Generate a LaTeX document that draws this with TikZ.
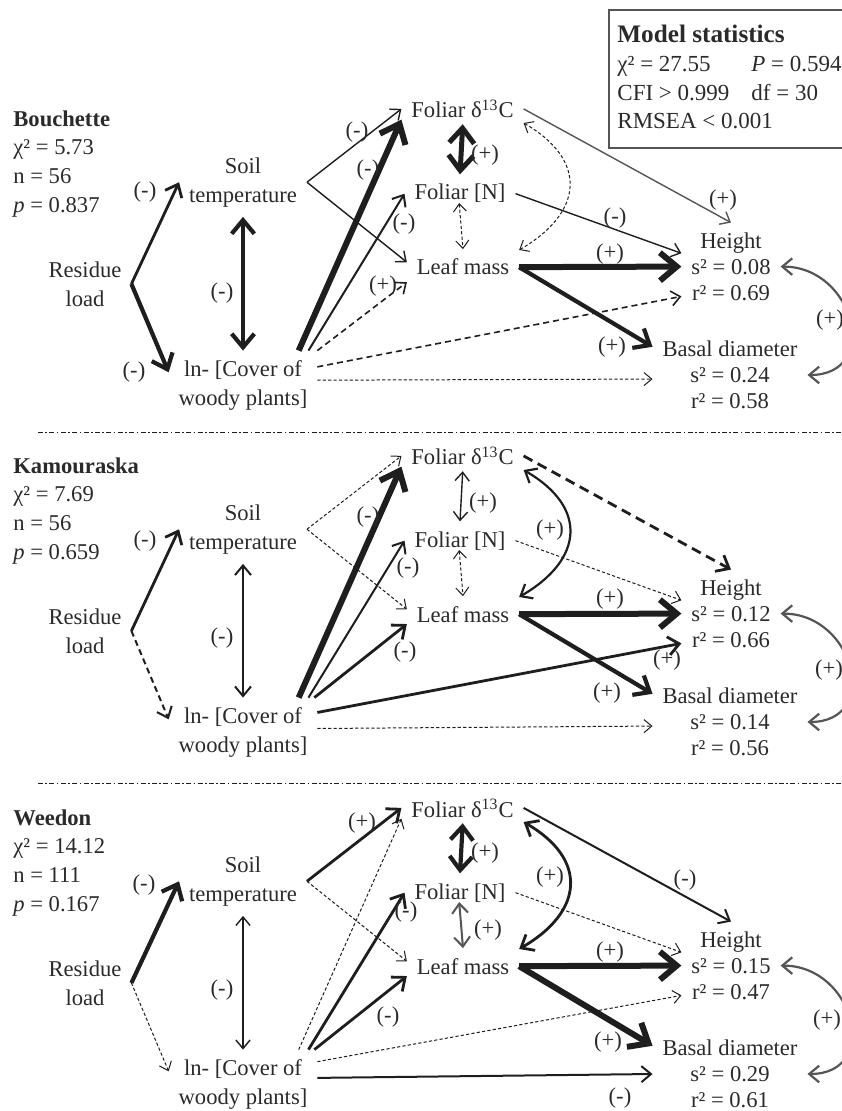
\documentclass[tikz,border=0pt]{standalone}
\usepackage{fontspec}
\setmainfont{Liberation Serif}
\usetikzlibrary{arrows.meta}
\definecolor{ink}{HTML}{1E1E1E}
\definecolor{txt}{HTML}{2A2A2A}
\definecolor{soft}{HTML}{555555}

\begin{document}
\begin{tikzpicture}[x=0.5pt, y=-0.5pt, color=ink,
  >={Straight Barb[length=3pt 1.8, width=5pt 3]},
  every node/.style={text=txt, inner sep=0pt, font=\fontsize{11.3}{14.4}\selectfont},
  var/.style={align=center, outer sep=5pt},
  resp/.style={var, font=\fontsize{11.3}{13}\selectfont},
  lnfine/.style={line width=0.5pt, dash pattern=on 1.6pt off 1.1pt},
  lndash/.style={line width=0.8pt, dash pattern=on 3pt off 2pt},
  lnslim/.style={line width=0.7pt},
  lnmid/.style={line width=1.4pt},
  lnbold/.style={line width=2.1pt},
  lnheavy/.style={line width=3pt},
  pair/.style={<->, line width=1.1pt, draw=soft},
  sep/.style={line width=0.5pt, dash pattern=on 2.5pt off 1.2pt on 0.8pt off 1.2pt}]
\useasboundingbox (0,0) rectangle (841,1111);

% variables, one block per site
\foreach \p/\dy/\site/\cs/\nn/\pv/\hsq/\hrq/\bsq/\brq in {a/0/Bouchette/5.73/56/0.837/0.08/0.69/0.24/0.58,
    b/347/Kamouraska/7.69/56/0.659/0.12/0.66/0.14/0.56, c/699/Weedon/14.12/111/0.167/0.15/0.47/0.29/0.61}{
\begin{scope}[shift={(0,\dy)}]
\node[anchor=north west, align=left] (\p-site) at (13,110) {\textbf{\site}\\χ² = \cs\\n = \nn\\\textit{p} = \pv};
\node[var, anchor=north] (\p-res) at (85,251.6) {Residue\\load};
\node[var, anchor=north] (\p-soil) at (243,147.6) {Soil\\temperature};
\node[var, anchor=north] (\p-cov) at (243,350.6) {ln- [Cover of\\woody plants]};
\node[var, anchor=base] (\p-d13) at (462.5,118) {Foliar δ\textsuperscript{13}C};
\node[var, anchor=base] (\p-fn) at (460,200) {Foliar [N]};
\node[var, anchor=base] (\p-lm) at (463,275) {Leaf mass};
\node[resp, anchor=north] (\p-ht) at (731,222.6) {Height\\s² = \hsq\\r² = \hrq};
\node[resp, anchor=north] (\p-bd) at (730,331) {Basal diameter\\s² = \bsq\\r² = \brq};
\end{scope}}

% model statistics
\draw[line width=0.9pt, draw=soft] (609,10) rectangle (870,148);
\node[anchor=north west, font=\fontsize{11.5}{14.4}\selectfont] (stats) at (617,22) {\begin{tabular}{@{}l@{\hspace{11pt}}l@{}}
  \multicolumn{2}{@{}l}{\fontsize{12.6}{14.4}\selectfont\textbf{Model statistics}}\\
  χ² = 27.55 & \textit{P} = 0.594\\
  CFI > 0.999 & df = 30\\
  \multicolumn{2}{@{}l}{RMSEA < 0.001}\end{tabular}};

\draw[sep] (38,433) -- (841,433);
\draw[sep] (38,783) -- (841,783);

% Bouchette
\draw[->, lnmid] (a-res.east) -- (a-soil.west);
\draw[->, lnbold] (a-res.east) -- (a-cov.170);
\draw[<->, lnbold] (a-soil.south) -- (a-cov.north);
\draw[->, lnslim] (a-soil.east) -- (a-d13.west);
\draw[->, lnslim] (a-soil.east) -- (a-lm.175);
\draw[->, lnheavy] (a-cov.32) -- (a-d13.190);
\draw[->, line width=1pt] (a-cov.28) -- (a-fn.west);
\draw[->, lndash] (a-cov.north east) -- (a-lm.195);
\draw[->, lndash] (a-cov.14) -- (a-ht.211);
\draw[->, lnfine] (a-cov.4) -- (a-bd.183);
\draw[<->, line width=2.5pt, shorten <=-2pt] (a-d13.south) -- (a-fn.north);
\draw[<->, lnfine, shorten <=-5pt] (a-fn.south) -- (a-lm.north);
\draw[->, lnslim, draw=soft] (a-d13.east) -- (a-ht.north);
\draw[->, lnslim] (a-fn.east) -- (a-ht.165);
\draw[->, lnheavy] (a-lm.east) -- (a-ht.west);
\draw[->, lnbold] (a-lm.east) -- (a-bd.160);
\draw[<->, lnfine] (a-d13.-13) to[out=-30, in=30, looseness=1.5] (a-lm.17);
\draw[pair] (a-ht.east) to[out=0, in=0, looseness=1.7] (a-bd.east);
\node (a-s1) at (145,192) {(-)};
\node (a-s2) at (134,372) {(-)};
\node (a-s3) at (222,293) {(-)};
\node (a-s4) at (357,132) {(-)};
\node (a-s5) at (368,170) {(-)};
\node (a-s6) at (404,224) {(-)};
\node (a-s7) at (383,286) {(+)};
\node (a-s8) at (485,155) {(+)};
\node (a-s9) at (723,200) {(+)};
\node (a-s10) at (615,218) {(-)};
\node (a-s11) at (610,254) {(+)};
\node (a-s12) at (612,347) {(+)};
\node (a-s13) at (830,320) {(+)};

% Kamouraska
\draw[->, lnmid] (b-res.east) -- (b-soil.west);
\draw[->, lndash, line width=1pt] (b-res.east) -- (b-cov.170);
\draw[<->, line width=1pt] (b-soil.south) -- (b-cov.north);
\draw[->, lnfine] (b-soil.east) -- (b-d13.west);
\draw[->, lnfine] (b-soil.east) -- (b-lm.175);
\draw[->, lnheavy] (b-cov.32) -- (b-d13.190);
\draw[->, line width=1pt] (b-cov.28) -- (b-fn.west);
\draw[->, lnmid] (b-cov.26) -- (b-lm.190);
\draw[->, lnmid] (b-cov.15) -- (b-ht.211);
\draw[->, lnfine] (b-cov.3) -- (b-bd.183);
\draw[<->, lnslim, shorten <=-2pt] (b-d13.south) -- (b-fn.north);
\draw[<->, lnfine, shorten <=-5pt] (b-fn.south) -- (b-lm.north);
\draw[->, lnmid, dash pattern=on 5pt off 3pt] (b-d13.east) -- (b-ht.north);
\draw[->, lnfine] (b-fn.east) -- (b-ht.165);
\draw[->, lnheavy] (b-lm.east) -- (b-ht.west);
\draw[->, lnbold] (b-lm.east) -- (b-bd.160);
\draw[<->, line width=1.1pt] (b-d13.-13) to[out=-30, in=30, looseness=1.5] (b-lm.17);
\draw[pair] (b-ht.east) to[out=0, in=0, looseness=1.7] (b-bd.east);
\begin{scope}[shift={(0,347)}]
\node (b-s1) at (145,194) {(-)};
\node (b-s2) at (222,291) {(-)};
\node (b-s3) at (368,170) {(-)};
\node (b-s4) at (408,221) {(-)};
\node (b-s5) at (405,305) {(-)};
\node (b-s6) at (483,156) {(+)};
\node (b-s7) at (550,183) {(+)};
\node (b-s8) at (610,252) {(+)};
\node (b-s9) at (667,313) {(+)};
\node (b-s10) at (607,346) {(+)};
\node (b-s11) at (829,323) {(+)};
\end{scope}

% Weedon
\draw[->, lnbold] (c-res.east) -- (c-soil.west);
\draw[->, lnfine] (c-res.east) -- (c-cov.170);
\draw[<->, lnslim] (c-soil.south) -- (c-cov.north);
\draw[->, lnmid] (c-soil.east) -- (c-d13.west);
\draw[->, lnfine] (c-soil.east) -- (c-lm.175);
\draw[->, lnfine] (c-cov.32) -- (c-d13.190);
\draw[->, lnmid] (c-cov.28) -- (c-fn.west);
\draw[->, lnmid] (c-cov.26) -- (c-lm.190);
\draw[->, lnfine] (c-cov.17) -- (c-ht.211);
\draw[->, line width=1pt] (c-cov.5) -- (c-bd.west);
\draw[<->, lnbold, shorten <=-2pt] (c-d13.south) -- (c-fn.north);
\draw[<->, line width=1pt, draw=soft, shorten <=-5pt] (c-fn.south) -- (c-lm.north);
\draw[->, line width=1pt] (c-d13.east) -- (c-ht.north);
\draw[->, lnfine] (c-fn.east) -- (c-ht.165);
\draw[->, lnheavy] (c-lm.east) -- (c-ht.west);
\draw[->, lnheavy] (c-lm.east) -- (c-bd.160);
\draw[<->, lnmid] (c-d13.-13) to[out=-30, in=30, looseness=1.5] (c-lm.17);
\draw[pair] (c-ht.east) to[out=0, in=0, looseness=1.7] (c-bd.east);
\begin{scope}[shift={(0,699)}]
\node (c-s1) at (144,186) {(-)};
\node (c-s2) at (222,291) {(-)};
\node (c-s3) at (362,124) {(+)};
\node (c-s4) at (406,213) {(-)};
\node (c-s5) at (388,318) {(-)};
\node (c-s6) at (485,154) {(+)};
\node (c-s7) at (488,231) {(+)};
\node (c-s8) at (550,178) {(+)};
\node (c-s9) at (685,181) {(-)};
\node (c-s10) at (610,253) {(+)};
\node (c-s11) at (608,343) {(+)};
\node (c-s12) at (827,321) {(+)};
\node (c-s13) at (620,399) {(-)};
\end{scope}
\end{tikzpicture}
\end{document}
